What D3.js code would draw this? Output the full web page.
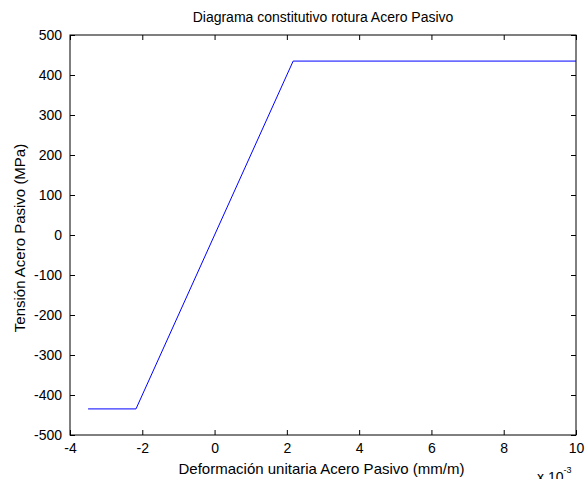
<!DOCTYPE html>
<html>
<head>
<meta charset="utf-8">
<script src="https://cdn.jsdelivr.net/npm/d3@7"></script>
<style>
  body { margin: 0; background: #fff; }
  text { font-family: Arial, "Liberation Sans", sans-serif; }
</style>
</head>
<body>
<svg id="chart"></svg>
<script>
var width = 585;
var height = 479;
var margin = {top: 35, right: 9, bottom: 44, left: 70};

// strain (x 10^-3) and stress (MPa) of the constitutive diagram
var strain = [-3.5, -2.174, 2.174, 10];
var stress = [-434.78, -434.78, 434.78, 434.78];
var xTicks = [-4, -2, 0, 2, 4, 6, 8, 10];
var yTicks = [-500, -400, -300, -200, -100, 0, 100, 200, 300, 400, 500];

var w = width - margin.left - margin.right;
var h = height - margin.top - margin.bottom;

var svg = d3.select('#chart')
    .attr('width', width)
    .attr('height', height);

var g = svg.append('g')
    .attr('transform', 'translate(' + margin.left + ',' + margin.top + ')');

var x = d3.scaleLinear().domain([-4, 10]).range([0, w]);
var y = d3.scaleLinear().domain([-500, 500]).range([h, 0]);

// plain hyphen for negatives, as in the original
var fmt = function(d) { return String(d); };

// ticks drawn inward on all four sides, like matlab
g.append('g')
    .attr('transform', 'translate(0,' + h + ')')
    .call(d3.axisBottom(x).tickValues(xTicks).tickFormat(fmt).tickSizeInner(-5).tickSizeOuter(0).tickPadding(8));
g.append('g')
    .call(d3.axisTop(x).tickValues(xTicks).tickSizeInner(-5).tickSizeOuter(0).tickFormat(''));
g.append('g')
    .call(d3.axisLeft(y).tickValues(yTicks).tickFormat(fmt).tickSizeInner(-5).tickSizeOuter(0).tickPadding(8));
g.append('g')
    .attr('transform', 'translate(' + w + ',0)')
    .call(d3.axisRight(y).tickValues(yTicks).tickSizeInner(-5).tickSizeOuter(0).tickFormat(''));

g.selectAll('.domain').remove();
g.selectAll('.tick line').attr('stroke', '#000');
g.selectAll('.tick text').attr('font-size', 14).attr('fill', '#000')
    .attr('font-family', 'Arial, "Liberation Sans", sans-serif');

g.append('rect')
    .attr('width', w)
    .attr('height', h)
    .attr('fill', 'none')
    .attr('stroke', '#000')
    .attr('stroke-width', 1);

var pts = strain.map(function(d, i) { return [d, stress[i]]; });
var line = d3.line()
    .x(function(d) { return x(d[0]); })
    .y(function(d) { return y(d[1]); });

g.append('path')
    .attr('d', line(pts))
    .attr('fill', 'none')
    .attr('stroke', '#0000ff')
    .attr('stroke-width', 1);

svg.append('text')
    .attr('x', margin.left + w / 2)
    .attr('y', 22)
    .attr('text-anchor', 'middle')
    .attr('font-size', 14)
    .text('Diagrama constitutivo rotura Acero Pasivo');

svg.append('text')
    .attr('x', 321.5)
    .attr('y', 474)
    .attr('text-anchor', 'middle')
    .attr('font-size', 15)
    .text('Deformación unitaria Acero Pasivo (mm/m)');

svg.append('text')
    .attr('transform', 'translate(25,' + (margin.top + h / 2 + 3) + ') rotate(-90)')
    .attr('text-anchor', 'middle')
    .attr('font-size', 15)
    .text('Tensión Acero Pasivo (MPa)');

var mult = svg.append('text')
    .attr('x', 537)
    .attr('y', 482)
    .attr('font-size', 14);
mult.append('tspan').text('x 10');
mult.append('tspan').attr('dy', -9).attr('font-size', 9).text('-3');
</script>
</body>
</html>
